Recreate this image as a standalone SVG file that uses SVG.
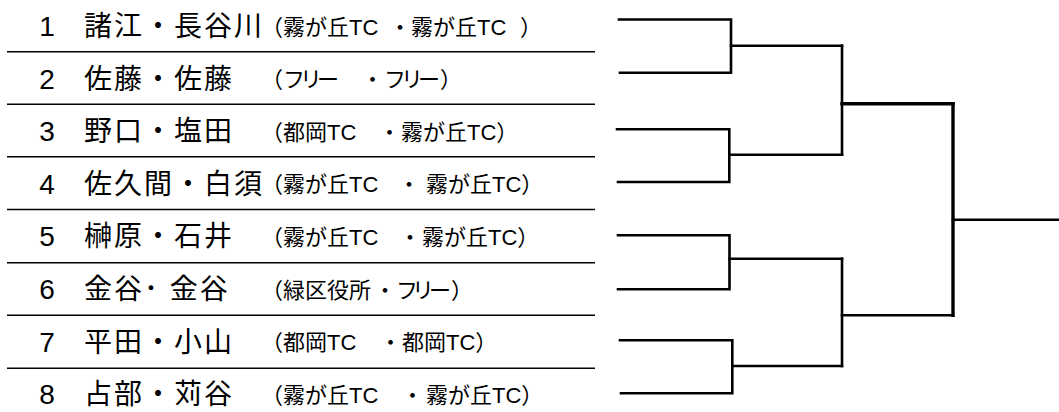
<svg xmlns="http://www.w3.org/2000/svg" width="1059" height="412" viewBox="0 0 1059 412">
<style>
text{font-family:"Liberation Sans","Noto Sans CJK JP",sans-serif;fill:#000}
.num{font-size:28px;text-anchor:middle}
.name{font-size:28px;letter-spacing:2px}
.aff{font-size:22px}
.sep{stroke:#000;stroke-width:1.5;fill:none}
.br{stroke:#000;stroke-width:2.6;fill:none;stroke-linecap:square;stroke-linejoin:miter}
.thick{stroke-width:3.4}
</style>
<rect width="1059" height="412" fill="#fff"/>
<g id="separators">
<line class="sep" x1="7" y1="51.7" x2="595" y2="51.7"/>
<line class="sep" x1="7" y1="104.3" x2="595" y2="104.3"/>
<line class="sep" x1="7" y1="156.7" x2="595" y2="156.7"/>
<line class="sep" x1="7" y1="209.5" x2="595" y2="209.5"/>
<line class="sep" x1="7" y1="262.7" x2="595" y2="262.7"/>
<line class="sep" x1="7" y1="315.3" x2="595" y2="315.3"/>
<line class="sep" x1="7" y1="368.3" x2="595" y2="368.3"/>
</g>
<g id="entry1">
<text class="num" x="47" y="36">1</text>
<text class="name" x="84" y="36">諸江・長谷川</text>
<text class="aff" y="34.5"><tspan x="261">（霧が丘TC</tspan><tspan x="389">・</tspan><tspan x="411">霧が丘TC</tspan><tspan x="520">）</tspan></text>
</g>
<g id="entry2">
<text class="num" x="47" y="88.6">2</text>
<text class="name" x="84" y="88.6">佐藤・佐藤</text>
<text class="aff" y="87.1"><tspan x="261 283 300 317">（フリー</tspan><tspan x="361.5">・</tspan><tspan x="384 401 418 440">フリー）</tspan></text>
</g>
<g id="entry3">
<text class="num" x="47" y="141.2">3</text>
<text class="name" x="84" y="141.2">野口・塩田</text>
<text class="aff" y="139.7"><tspan x="261">（都岡TC</tspan><tspan x="378.5">・</tspan><tspan x="401">霧が丘TC）</tspan></text>
</g>
<g id="entry4">
<text class="num" x="47" y="193.8">4</text>
<text class="name" x="84" y="193.8">佐久間・白須</text>
<text class="aff" y="192.3"><tspan x="261">（霧が丘TC</tspan><tspan x="398">・</tspan><tspan x="426">霧が丘TC）</tspan></text>
</g>
<g id="entry5">
<text class="num" x="47" y="246.4">5</text>
<text class="name" x="84" y="246.4">榊原・石井</text>
<text class="aff" y="244.9"><tspan x="261">（霧が丘TC</tspan><tspan x="399">・</tspan><tspan x="422">霧が丘TC）</tspan></text>
</g>
<g id="entry6">
<text class="num" x="47" y="299">6</text>
<text class="name" x="84" y="299">金谷･ 金谷</text>
<text class="aff" y="297.5"><tspan x="261">（緑区役所</tspan><tspan x="374">・</tspan><tspan x="396 412 429 451">フリー）</tspan></text>
</g>
<g id="entry7">
<text class="num" x="47" y="351.6">7</text>
<text class="name" x="84" y="351.6">平田・小山</text>
<text class="aff" y="350.1"><tspan x="261">（都岡TC</tspan><tspan x="379.5">・</tspan><tspan x="402">都岡TC）</tspan></text>
</g>
<g id="entry8">
<text class="num" x="47" y="404.2">8</text>
<text class="name" x="84" y="404.2">占部・苅谷</text>
<text class="aff" y="402.7"><tspan x="261">（霧が丘TC</tspan><tspan x="401.5">・</tspan><tspan x="426">霧が丘TC）</tspan></text>
</g>
<g id="connectors">
<path class="br" d="M619 19.5 H731 V72.7 H620"/>
<path class="br" d="M731 45.7 H842"/>
<path class="br" d="M617 129.3 H729.3 V182 H618"/>
<path class="br" d="M729.3 154.7 H842"/>
<path class="br" d="M842 45.7 V154.7"/>
<path class="br thick" d="M842 103.7 H953"/>
<path class="br" d="M618 235.3 H729.5 V289.3 H618"/>
<path class="br" d="M729.5 258.7 H842"/>
<path class="br" d="M620 340.3 H732.3 V393.3 H621"/>
<path class="br" d="M732.3 366 H842"/>
<path class="br" d="M842 258.7 V366"/>
<path class="br" d="M842 315.3 H953"/>
<path class="br thick" d="M953 103.7 V315.3"/>
<path class="br" d="M953 219.7 H1059"/>
</g>
</svg>
